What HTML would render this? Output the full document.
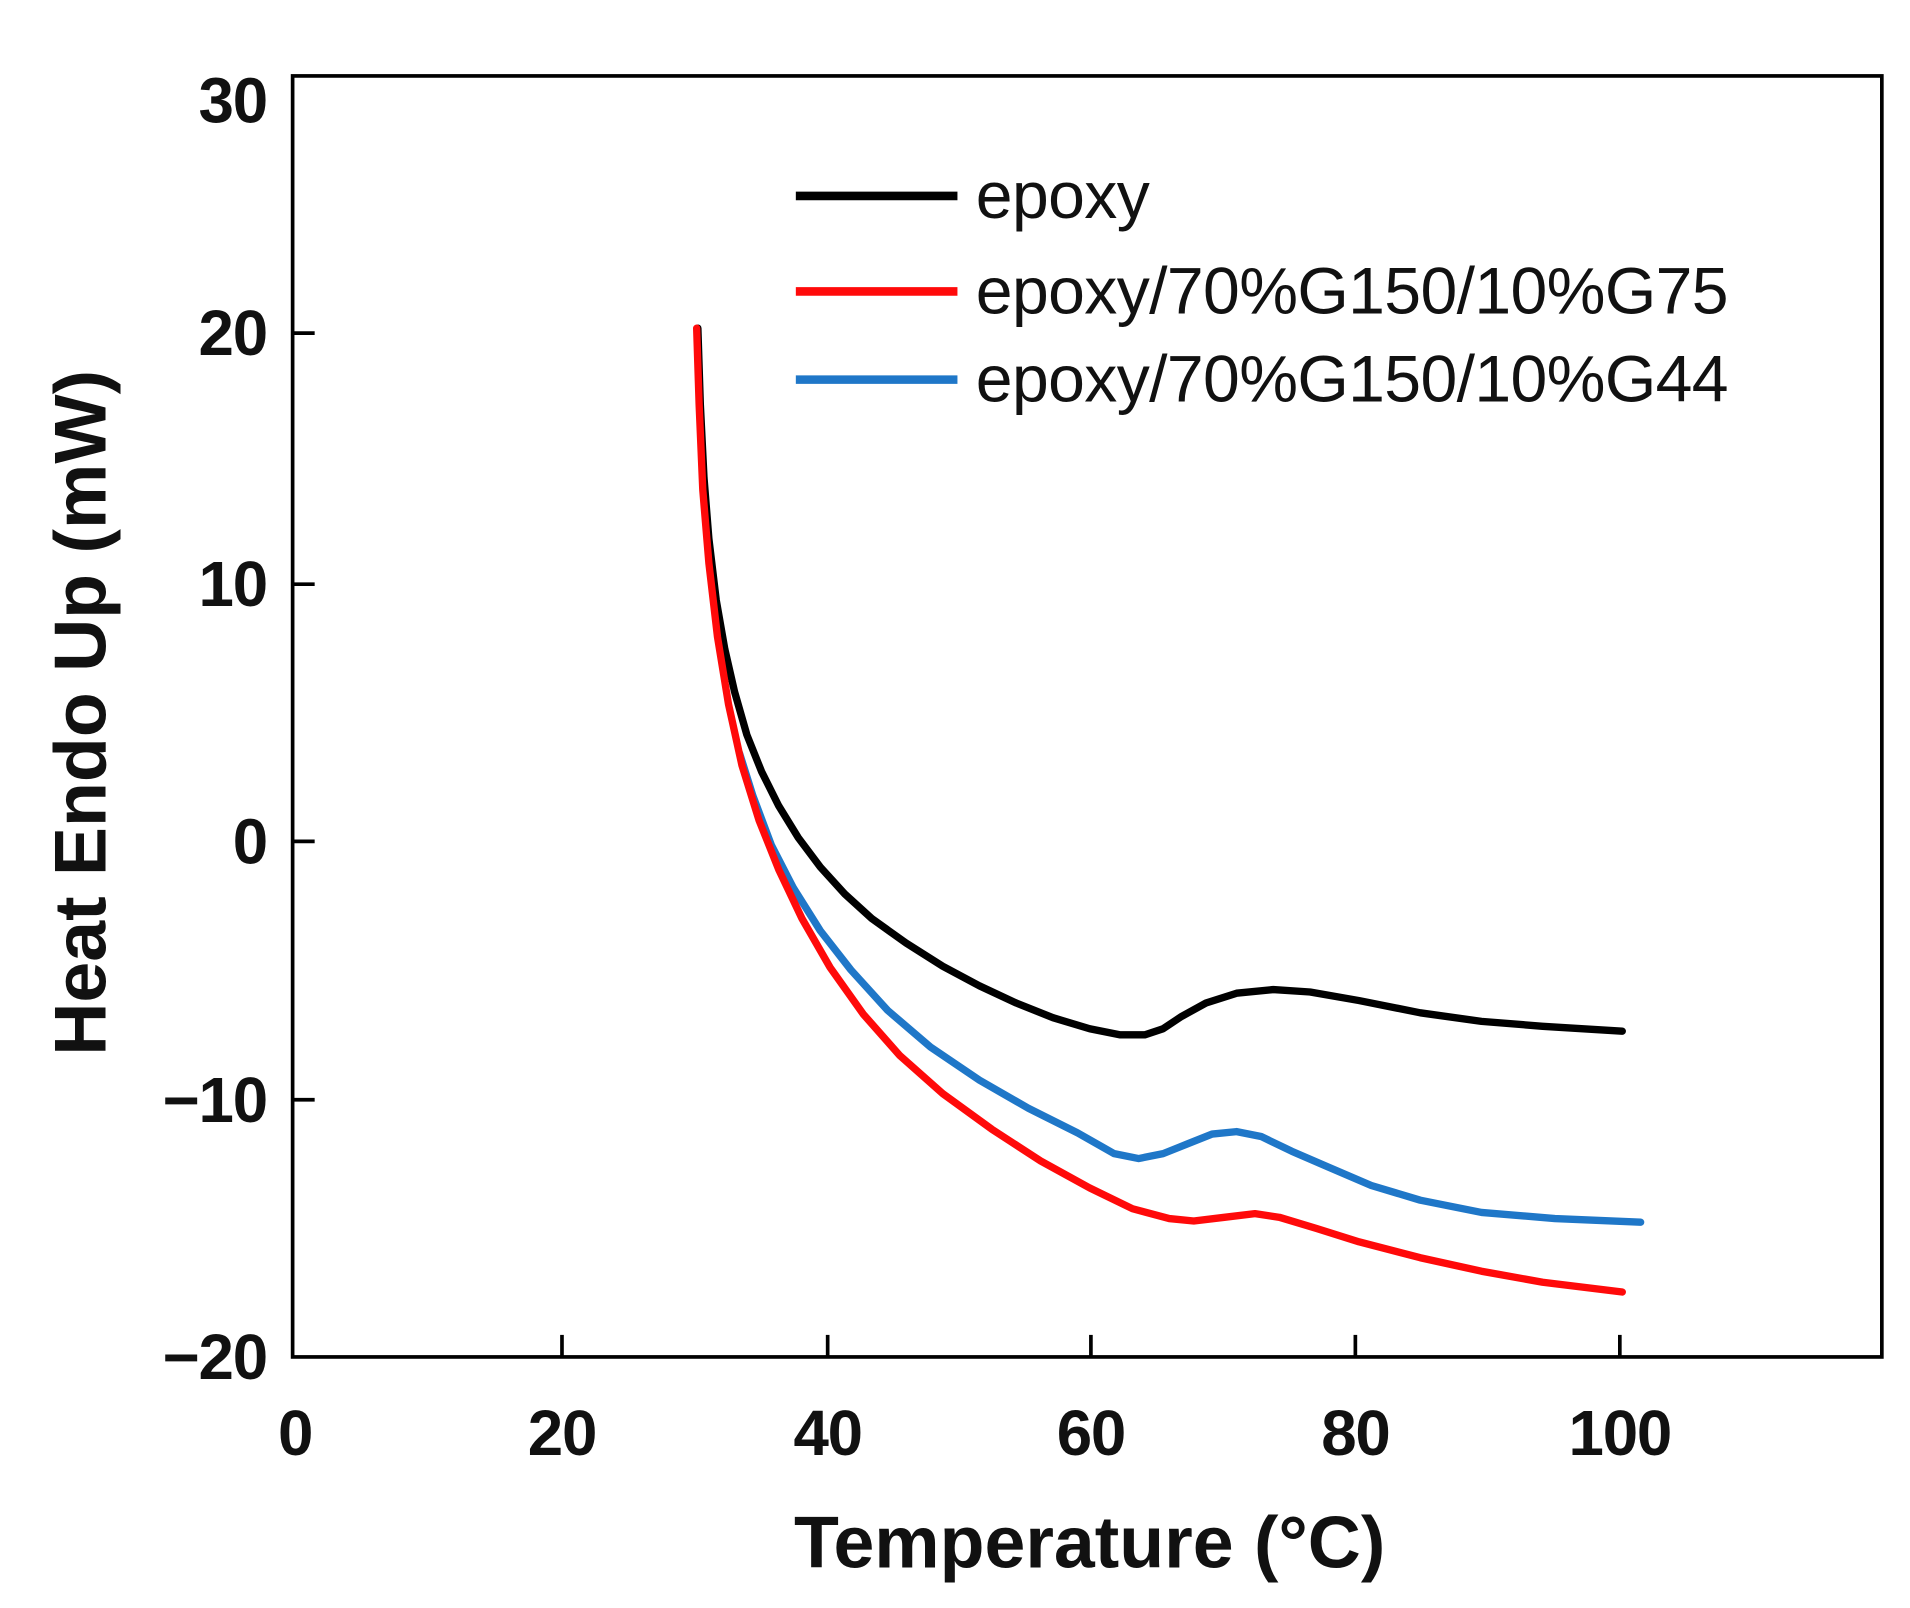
<!DOCTYPE html>
<html><head><style>html,body{margin:0;padding:0;background:#fff}svg{display:block}</style></head>
<body>
<svg width="1910" height="1608" viewBox="0 0 1560 1313" preserveAspectRatio="none" xmlns="http://www.w3.org/2000/svg" font-family="Liberation Sans, sans-serif">
<rect x="0" y="0" width="1560" height="1313" fill="#fff"/>
<rect x="239" y="62" width="1298" height="1046" fill="none" stroke="#000" stroke-width="3"/>
<g stroke="#000" stroke-width="3">
<line x1="459" y1="1108" x2="459" y2="1090"/><line x1="676" y1="1108" x2="676" y2="1090"/>
<line x1="891" y1="1108" x2="891" y2="1090"/><line x1="1107" y1="1108" x2="1107" y2="1090"/>
<line x1="1323" y1="1108" x2="1323" y2="1090"/>
<line x1="239" y1="272" x2="257" y2="272"/><line x1="239" y1="477" x2="257" y2="477"/>
<line x1="239" y1="687" x2="257" y2="687"/><line x1="239" y1="898" x2="257" y2="898"/>
</g>
<g font-size="52" font-weight="bold" text-anchor="end" fill="#111" letter-spacing="-1">
<text x="218" y="100">30</text><text x="218" y="290">20</text><text x="218" y="495">10</text>
<text x="218" y="705">0</text><text x="218" y="916">−10</text><text x="218" y="1126">−20</text>
</g>
<g font-size="52" font-weight="bold" text-anchor="middle" fill="#111" letter-spacing="-1">
<text x="241" y="1188">0</text><text x="459" y="1188">20</text><text x="676" y="1188">40</text>
<text x="891" y="1188">60</text><text x="1107" y="1188">80</text><text x="1323" y="1188">100</text>
</g>
<text x="890" y="1280" font-size="60" font-weight="bold" text-anchor="middle" fill="#111">Temperature (°C)</text>
<text transform="translate(86,582) rotate(-90)" font-size="60" font-weight="bold" text-anchor="middle" fill="#111">Heat Endo Up (mW)</text>
<g fill="none" stroke-width="6" stroke-linecap="round" stroke-linejoin="round">
<polyline stroke="#000" points="570,268 572,330 575,390 579,440 585,490 592,530 600,565 610,600 622,630 636,658 652,684 670,708 690,730 712,750 740,770 770,789 800,805 830,819 860,831 890,840 915,845 935,845 950,840 965,830 985,819 1010,811 1040,808 1070,810 1110,817 1160,827 1210,834 1260,838 1325,842"/>
<polyline stroke="#1f77c8" points="604,615 615,650 630,690 648,725 670,760 695,792 725,825 760,855 800,882 840,905 880,925 910,942 930,946 950,942 970,934 990,926 1010,924 1030,928 1055,940 1085,953 1120,968 1160,980 1210,990 1270,995 1340,998"/>
<polyline stroke="#ff0a0a" points="569,268 571,330 574,400 579,460 586,520 595,575 606,625 620,670 636,710 655,750 678,790 705,828 735,862 770,893 810,922 850,948 890,970 925,987 955,995 975,997 1000,994 1025,991 1045,994 1075,1003 1110,1014 1160,1027 1210,1038 1260,1047 1325,1055"/>
</g>
<g stroke-width="7">
<line x1="650" y1="160" x2="782" y2="160" stroke="#000"/>
<line x1="650" y1="238" x2="782" y2="238" stroke="#ff0a0a"/>
<line x1="650" y1="310" x2="782" y2="310" stroke="#1f77c8"/>
</g>
<g font-size="54" fill="#111" letter-spacing="-0.5">
<text x="797" y="178">epoxy</text>
<text x="797" y="256">epoxy/70%G150/10%G75</text>
<text x="797" y="328">epoxy/70%G150/10%G44</text>
</g>
</svg>
</body></html>
